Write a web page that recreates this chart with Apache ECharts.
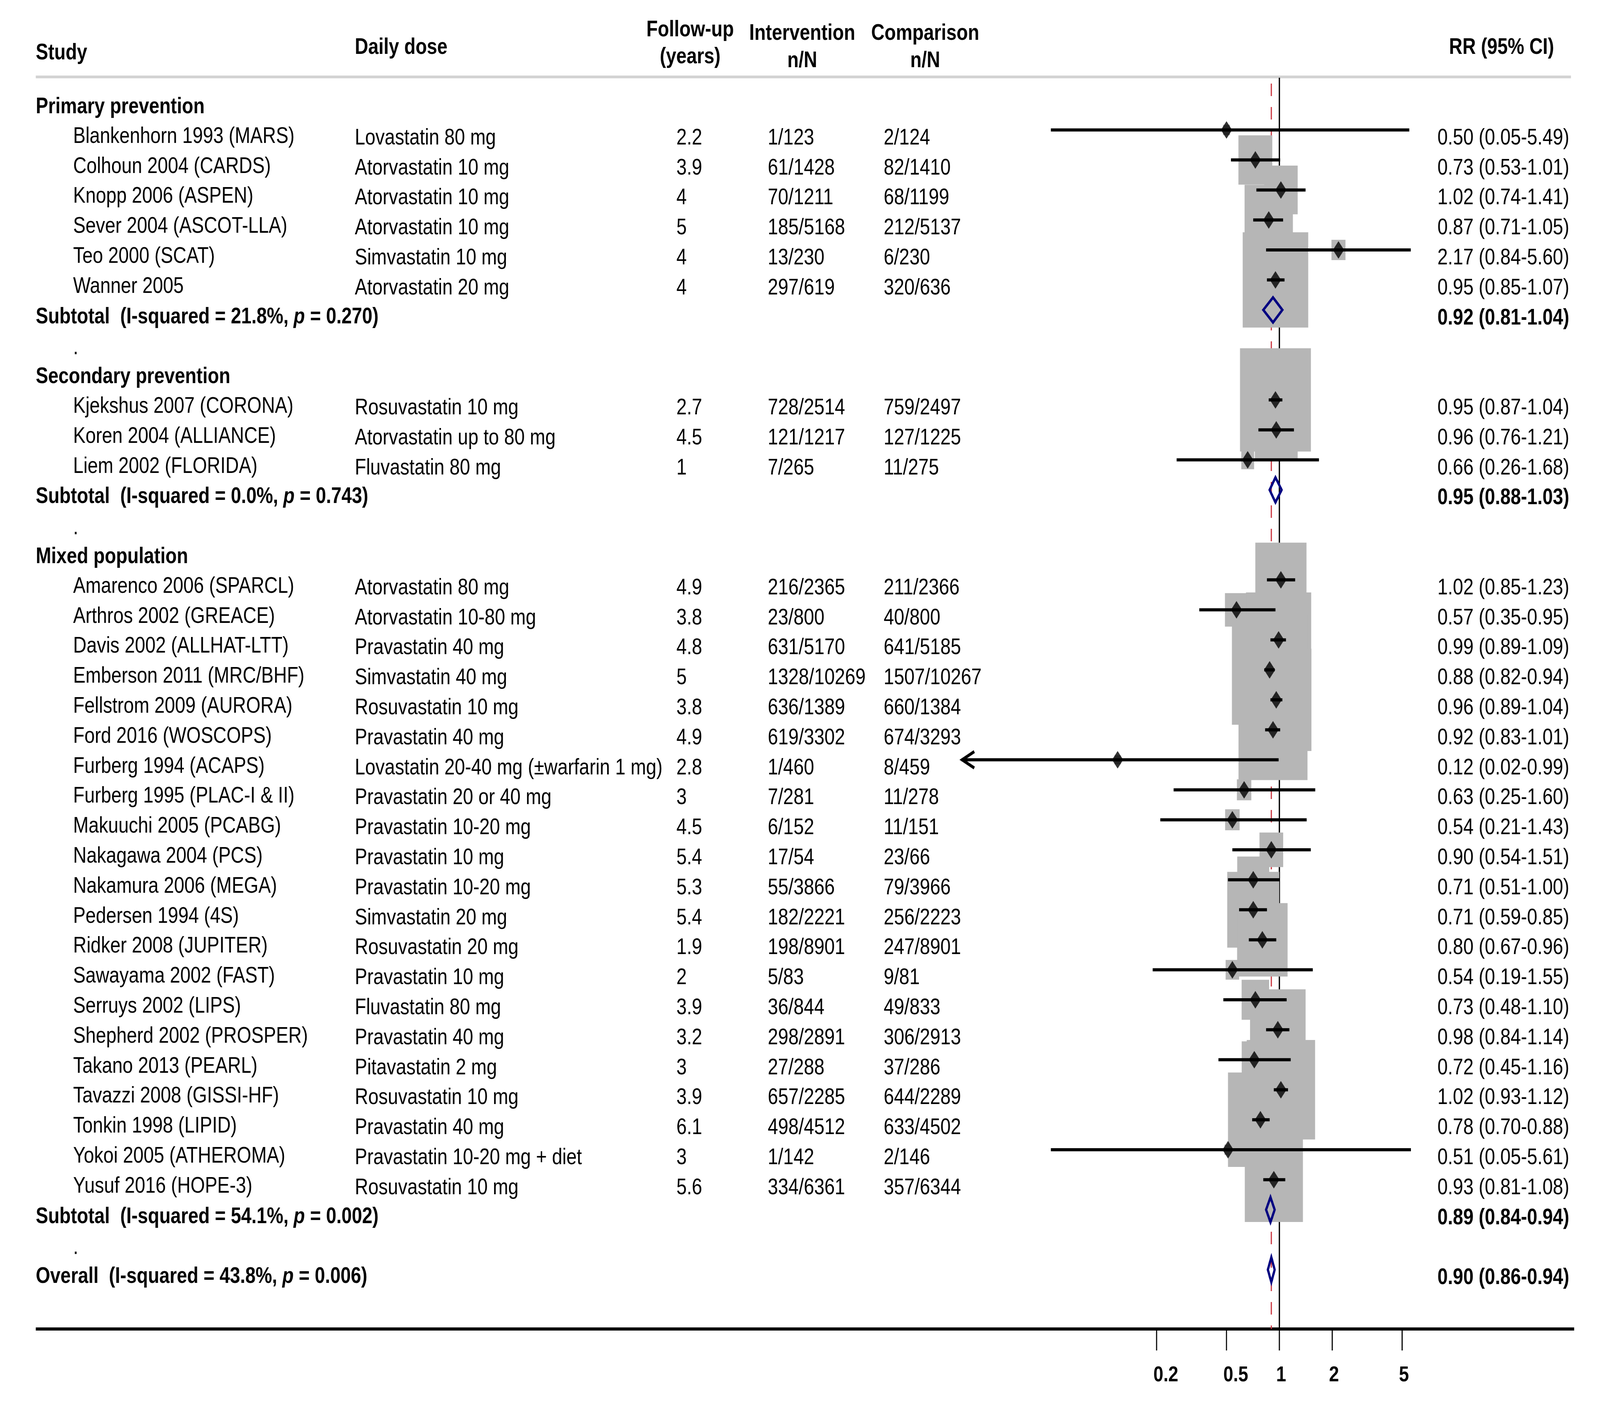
<!DOCTYPE html>
<html>

<head>
	<meta charset="UTF-8">
	<title>Statins forest plot</title>
	<style>
		html, body { margin: 0; padding: 0; background: #fff; overflow: hidden; }
		#chart { width: 5010px; height: 3613px; transform-origin: 0 0; }
	</style>
	<script src="https://cdn.jsdelivr.net/npm/echarts@6/dist/echarts.min.js"></script>
</head>

<body>
	<div id="chart"></div>
	<script>
		// ---- data ----
		var groups = ['Primary prevention', 'Secondary prevention', 'Mixed population'];

		var studies = [
			'Blankenhorn 1993 (MARS)', 'Colhoun 2004 (CARDS)', 'Knopp 2006 (ASPEN)',
			'Sever 2004 (ASCOT-LLA)', 'Teo 2000 (SCAT)', 'Wanner 2005',
			'Kjekshus 2007 (CORONA)', 'Koren 2004 (ALLIANCE)', 'Liem 2002 (FLORIDA)',
			'Amarenco 2006 (SPARCL)', 'Arthros 2002 (GREACE)', 'Davis 2002 (ALLHAT-LTT)',
			'Emberson 2011 (MRC/BHF)', 'Fellstrom 2009 (AURORA)', 'Ford 2016 (WOSCOPS)',
			'Furberg 1994 (ACAPS)', 'Furberg 1995 (PLAC-I & II)', 'Makuuchi 2005 (PCABG)',
			'Nakagawa 2004 (PCS)', 'Nakamura 2006 (MEGA)', 'Pedersen 1994 (4S)',
			'Ridker 2008 (JUPITER)', 'Sawayama 2002 (FAST)', 'Serruys 2002 (LIPS)',
			'Shepherd 2002 (PROSPER)', 'Takano 2013 (PEARL)', 'Tavazzi 2008 (GISSI-HF)',
			'Tonkin 1998 (LIPID)', 'Yokoi 2005 (ATHEROMA)', 'Yusuf 2016 (HOPE-3)'
		];
		var studyGroup = [0, 0, 0, 0, 0, 0, 1, 1, 1,
			2, 2, 2, 2, 2, 2, 2, 2, 2, 2, 2, 2, 2, 2, 2, 2, 2, 2, 2, 2, 2];

		var doses = [
			'Lovastatin 80 mg', 'Atorvastatin 10 mg', 'Atorvastatin 10 mg',
			'Atorvastatin 10 mg', 'Simvastatin 10 mg', 'Atorvastatin 20 mg',
			'Rosuvastatin 10 mg', 'Atorvastatin up to 80 mg', 'Fluvastatin 80 mg',
			'Atorvastatin 80 mg', 'Atorvastatin 10-80 mg', 'Pravastatin 40 mg',
			'Simvastatin 40 mg', 'Rosuvastatin 10 mg', 'Pravastatin 40 mg',
			'Lovastatin 20-40 mg (±warfarin 1 mg)', 'Pravastatin 20 or 40 mg', 'Pravastatin 10-20 mg',
			'Pravastatin 10 mg', 'Pravastatin 10-20 mg', 'Simvastatin 20 mg',
			'Rosuvastatin 20 mg', 'Pravastatin 10 mg', 'Fluvastatin 80 mg',
			'Pravastatin 40 mg', 'Pitavastatin 2 mg', 'Rosuvastatin 10 mg',
			'Pravastatin 40 mg', 'Pravastatin 10-20 mg + diet', 'Rosuvastatin 10 mg'
		];

		var followUp = [2.2, 3.9, 4, 5, 4, 4, 2.7, 4.5, 1,
			4.9, 3.8, 4.8, 5, 3.8, 4.9, 2.8, 3, 4.5, 5.4, 5.3, 5.4, 1.9, 2, 3.9, 3.2, 3, 3.9, 6.1, 3, 5.6];

		var intervention = ['1/123', '61/1428', '70/1211', '185/5168', '13/230', '297/619',
			'728/2514', '121/1217', '7/265',
			'216/2365', '23/800', '631/5170', '1328/10269', '636/1389', '619/3302', '1/460', '7/281',
			'6/152', '17/54', '55/3866', '182/2221', '198/8901', '5/83', '36/844', '298/2891',
			'27/288', '657/2285', '498/4512', '1/142', '334/6361'];

		var comparison = ['2/124', '82/1410', '68/1199', '212/5137', '6/230', '320/636',
			'759/2497', '127/1225', '11/275',
			'211/2366', '40/800', '641/5185', '1507/10267', '660/1384', '674/3293', '8/459', '11/278',
			'11/151', '23/66', '79/3966', '256/2223', '247/8901', '9/81', '49/833', '306/2913',
			'37/286', '644/2289', '633/4502', '2/146', '357/6344'];

		var rr = [0.50, 0.73, 1.02, 0.87, 2.17, 0.95, 0.95, 0.96, 0.66,
			1.02, 0.57, 0.99, 0.88, 0.96, 0.92, 0.12, 0.63, 0.54, 0.90, 0.71, 0.71, 0.80, 0.54,
			0.73, 0.98, 0.72, 1.02, 0.78, 0.51, 0.93];
		var ciLow = [0.05, 0.53, 0.74, 0.71, 0.84, 0.85, 0.87, 0.76, 0.26,
			0.85, 0.35, 0.89, 0.82, 0.89, 0.83, 0.0155, 0.25, 0.21, 0.54, 0.51, 0.59, 0.67, 0.19,
			0.48, 0.84, 0.45, 0.93, 0.70, 0.05, 0.81];
		var ciHigh = [5.49, 1.01, 1.41, 1.05, 5.60, 1.07, 1.04, 1.21, 1.68,
			1.23, 0.95, 1.09, 0.94, 1.04, 1.01, 0.99, 1.60, 1.43, 1.51, 1.00, 0.85, 0.96, 1.55,
			1.10, 1.14, 1.16, 1.12, 0.88, 5.61, 1.08];
		// percentage weights, estimated from the size of the grey boxes
		var weight = [0.08, 1.82, 1.78, 3.69, 0.31, 6.79, 7.97, 2.90, 0.26,
			4.14, 0.84, 6.73, 9.00, 7.82, 7.54, 0.06, 0.33, 0.33, 0.89, 1.62, 4.29, 4.03, 0.29,
			1.20, 4.89, 1.01, 7.40, 6.66, 0.08, 5.35];

		var subISq = [21.8, 0.0, 54.1];
		var subP = [0.270, 0.743, 0.002];
		var subRR = [0.92, 0.95, 0.89];
		var subLow = [0.81, 0.88, 0.84];
		var subHigh = [1.04, 1.03, 0.94];

		var overallISq = 43.8, overallP = 0.006;
		var overallRR = 0.90, overallLow = 0.86, overallHigh = 0.94;

		var xTicks = [0.2, 0.5, 1, 2, 5];
		var arrowBelow = 0.02;   // CIs reaching below this get an arrow

		// ---- layout (drawn at 5010x3613, then fitted to the window) ----
		var W = 5010, H = 3613;
		var FONT = '"Liberation Sans", Arial, sans-serif';
		var FS = 58;
		var TEXT_DY = 21;
		var BOX_K = 78.7;
		var col = { group: 112, name: 229, dose: 1111, follow: 2118, interv: 2404, comp: 2767, rr: 4501 };

		var rows = [];
		var studyRow = [];
		var subRow = [];
		var r = 0;
		groups.forEach(function (g, gi) {
			rows.push({ kind: 'group', idx: gi, row: r++ });
			studies.forEach(function (s, i) {
				if (studyGroup[i] === gi) {
					studyRow[i] = r;
					rows.push({ kind: 'study', idx: i, row: r++ });
				}
			});
			subRow[gi] = r;
			rows.push({ kind: 'sub', idx: gi, row: r++ });
			rows.push({ kind: 'dot', row: r++ });
		});
		var overallRow = r;
		rows.push({ kind: 'overall', row: r });

		function rrText(a, b, c) {
			return a.toFixed(2) + ' (' + b.toFixed(2) + '-' + c.toFixed(2) + ')';
		}
		function hetText(isq, p) {
			return '{b|  (I-squared = ' + isq.toFixed(1) + '%, }{bi|p}{b| = ' + p.toFixed(3) + ')}';
		}
		var richStyle = {
			b: { fontFamily: FONT, fontSize: FS, fontWeight: 'bold', fill: '#000' },
			bi: { fontFamily: FONT, fontSize: FS, fontWeight: 'bold', fontStyle: 'italic', fill: '#000' }
		};

		function txt(x, y, str, bold, align) {
			return {
				type: 'text', x: x, y: y,
				style: {
					text: str, fill: '#000', fontFamily: FONT, fontSize: FS,
					fontWeight: bold ? 'bold' : 'normal',
					align: align || 'left', verticalAlign: 'middle'
				}
			};
		}
		function hline(x1, x2, y, w, color, dash) {
			return {
				type: 'line', shape: { x1: x1, y1: y, x2: x2, y2: y },
				style: { stroke: color, lineWidth: w, lineDash: dash || null }
			};
		}
		function vline(x, y1, y2, w, color, dash) {
			return {
				type: 'line', shape: { x1: x, y1: y1, x2: x, y2: y2 },
				style: { stroke: color, lineWidth: w, lineDash: dash || null }
			};
		}

		var LOG = Math.log10;
		var el = document.getElementById('chart');
		// the browser window can be narrower than the design size: fit the whole picture into it
		var sx = window.innerWidth / W, sy = window.innerHeight / H;
		el.style.transform = 'scale(' + sx + ',' + sy + ')';
		var myChart = echarts.init(el, null, { width: W, height: H });

		var option = {
			backgroundColor: '#fff',
			animation: false,
			grid: { left: 0, right: 0, top: 0, bottom: 0 },
			xAxis: [
				{ type: 'value', min: -4006 / 550, max: (W - 4006) / 550, show: false },   // log10(RR)
				{ type: 'value', min: 0, max: W, show: false }                              // layout px
			],
			yAxis: [
				{ type: 'value', inverse: true, min: -256 / 76.8, max: (H - 256) / 76.8, show: false }, // rows
				{ type: 'value', inverse: true, min: 0, max: H, show: false }                          // layout px
			],
			series: [
				// header and rules
				{
					type: 'custom', xAxisIndex: 1, yAxisIndex: 1, silent: true, z: 1,
					data: [[0, 0]],
					renderItem: function (params, api) {
						function p(x, y) { return api.coord([x, y]); }
						var c = [];
						c.push(txt(p(112, 0)[0], p(0, 136)[1], 'Study', true));
						c.push(txt(p(1111, 0)[0], p(0, 122)[1], 'Daily dose', true));
						c.push(txt(p(2161, 0)[0], p(0, 77)[1], 'Follow-up', true, 'center'));
						c.push(txt(p(2161, 0)[0], p(0, 146)[1], '(years)', true, 'center'));
						c.push(txt(p(2512, 0)[0], p(0, 86)[1], 'Intervention', true, 'center'));
						c.push(txt(p(2512, 0)[0], p(0, 156)[1], 'n/N', true, 'center'));
						c.push(txt(p(2897, 0)[0], p(0, 86)[1], 'Comparison', true, 'center'));
						c.push(txt(p(2897, 0)[0], p(0, 156)[1], 'n/N', true, 'center'));
						c.push(txt(p(4866, 0)[0], p(0, 122)[1], 'RR (95% CI)', true, 'right'));
						c.push(hline(p(112, 0)[0], p(4919, 0)[0], p(0, 197)[1], 7, '#d2d2d2'));
						c.push(hline(p(112, 0)[0], p(4929, 0)[0], p(0, 3403)[1], 8, '#000'));
						return { type: 'group', children: c };
					}
				},
				// reference lines, ticks and tick labels (log x, px y)
				{
					type: 'custom', xAxisIndex: 0, yAxisIndex: 1, silent: true, z: 2,
					data: [[0, 0]],
					renderItem: function (params, api) {
						var c = [];
						var x1 = api.coord([0, 0])[0];
						var xo = api.coord([LOG(overallRR), 0])[0];
						var top = api.coord([0, 199])[1], bot = api.coord([0, 3403])[1];
						c.push(vline(x1, top, bot, 4, '#000'));
						c.push(vline(xo, api.coord([0, 214])[1], bot, 3.5, '#c8323c', [32, 28]));
						xTicks.forEach(function (v) {
							var x = api.coord([LOG(v), 0])[0];
							c.push(vline(x, bot, api.coord([0, 3458])[1], 3.5, '#000'));
							var t = txt(x - 10, api.coord([0, 3522])[1], String(v), true);
							t.style.fontSize = 56;
							c.push(t);
						});
						return { type: 'group', children: c };
					}
				},
				// weight boxes
				{
					type: 'custom', xAxisIndex: 0, yAxisIndex: 0, silent: true, z: 3,
					data: studies.map(function (s, i) { return [LOG(rr[i]), studyRow[i], weight[i]]; }),
					renderItem: function (params, api) {
						var c = api.coord([api.value(0), api.value(1)]);
						var w = BOX_K * Math.sqrt(api.value(2));
						var h = w * 1.19;
						return {
							type: 'rect',
							shape: { x: c[0] - w / 2, y: c[1] - h / 2, width: w, height: h },
							style: { fill: '#b6b6b6' }
						};
					}
				},
				// confidence intervals
				{
					type: 'custom', xAxisIndex: 0, yAxisIndex: 0, silent: true, z: 4,
					data: studies.map(function (s, i) {
						return [LOG(ciLow[i]), LOG(ciHigh[i]), studyRow[i], ciLow[i] < arrowBelow ? 1 : 0];
					}),
					renderItem: function (params, api) {
						var a = api.coord([api.value(0), api.value(2)]);
						var b = api.coord([api.value(1), api.value(2)]);
						var c = [hline(a[0], b[0], a[1], 8, '#000')];
						if (api.value(3)) {
							c.push({
								type: 'polyline',
								shape: { points: [[a[0] + 40, a[1] - 21], [a[0] + 2, a[1]], [a[0] + 40, a[1] + 21]] },
								style: { stroke: '#000', lineWidth: 8, fill: null }
							});
						}
						return { type: 'group', children: c };
					}
				},
				// point estimates
				{
					type: 'scatter', xAxisIndex: 0, yAxisIndex: 0, silent: true, z: 5,
					symbol: 'diamond', symbolSize: [35, 45],
					itemStyle: { color: '#000' },
					data: studies.map(function (s, i) { return [LOG(rr[i]), studyRow[i]]; })
				},
				// pooled diamonds
				{
					type: 'custom', xAxisIndex: 0, yAxisIndex: 0, silent: true, z: 6,
					data: subRR.map(function (v, g) {
						return [LOG(subLow[g]), LOG(v), LOG(subHigh[g]), subRow[g]];
					}).concat([[LOG(overallLow), LOG(overallRR), LOG(overallHigh), overallRow]]),
					renderItem: function (params, api) {
						var row = api.value(3);
						var l = api.coord([api.value(0), row]);
						var m = api.coord([api.value(1), row]);
						var h = api.coord([api.value(2), row]);
						var hh = 32;
						return {
							type: 'polygon',
							shape: { points: [[l[0], l[1]], [m[0], m[1] - hh], [h[0], h[1]], [m[0], m[1] + hh]] },
							style: { fill: null, stroke: '#000080', lineWidth: 7 }
						};
					}
				},
				// table text
				{
					type: 'custom', xAxisIndex: 1, yAxisIndex: 0, silent: true, z: 7,
					data: rows.map(function (it) { return [0, it.row]; }),
					renderItem: function (params, api) {
						var it = rows[params.dataIndex];
						var y = api.coord([0, it.row])[1] + TEXT_DY;
						function X(x) { return api.coord([x, it.row])[0]; }
						var c = [];
						if (it.kind === 'group') {
							c.push(txt(X(col.group), y - 3, groups[it.idx], true));
						} else if (it.kind === 'study') {
							var i = it.idx;
							c.push(txt(X(col.name), y - 4, studies[i], false));
							c.push(txt(X(col.dose), y, doses[i], false));
							c.push(txt(X(col.follow), y, String(followUp[i]), false));
							c.push(txt(X(col.interv), y, intervention[i], false));
							c.push(txt(X(col.comp), y, comparison[i], false));
							c.push(txt(X(col.rr), y, rrText(rr[i], ciLow[i], ciHigh[i]), false));
						} else if (it.kind === 'sub' || it.kind === 'overall') {
							var isSub = it.kind === 'sub';
							var label = isSub ? 'Subtotal' : 'Overall';
							var het = isSub ? hetText(subISq[it.idx], subP[it.idx]) : hetText(overallISq, overallP);
							c.push({
								type: 'text', x: X(col.group), y: y - 3,
								style: {
									text: '{b|' + label + '}' + het, rich: richStyle,
									align: 'left', verticalAlign: 'middle'
								}
							});
							c.push(txt(X(col.rr), y, isSub
								? rrText(subRR[it.idx], subLow[it.idx], subHigh[it.idx])
								: rrText(overallRR, overallLow, overallHigh), true));
						} else if (it.kind === 'dot') {
							c.push(txt(X(col.name), y, '.', false));
						}
						return { type: 'group', children: c };
					}
				}
			]
		};

		myChart.setOption(option);
	</script>
</body>

</html>
